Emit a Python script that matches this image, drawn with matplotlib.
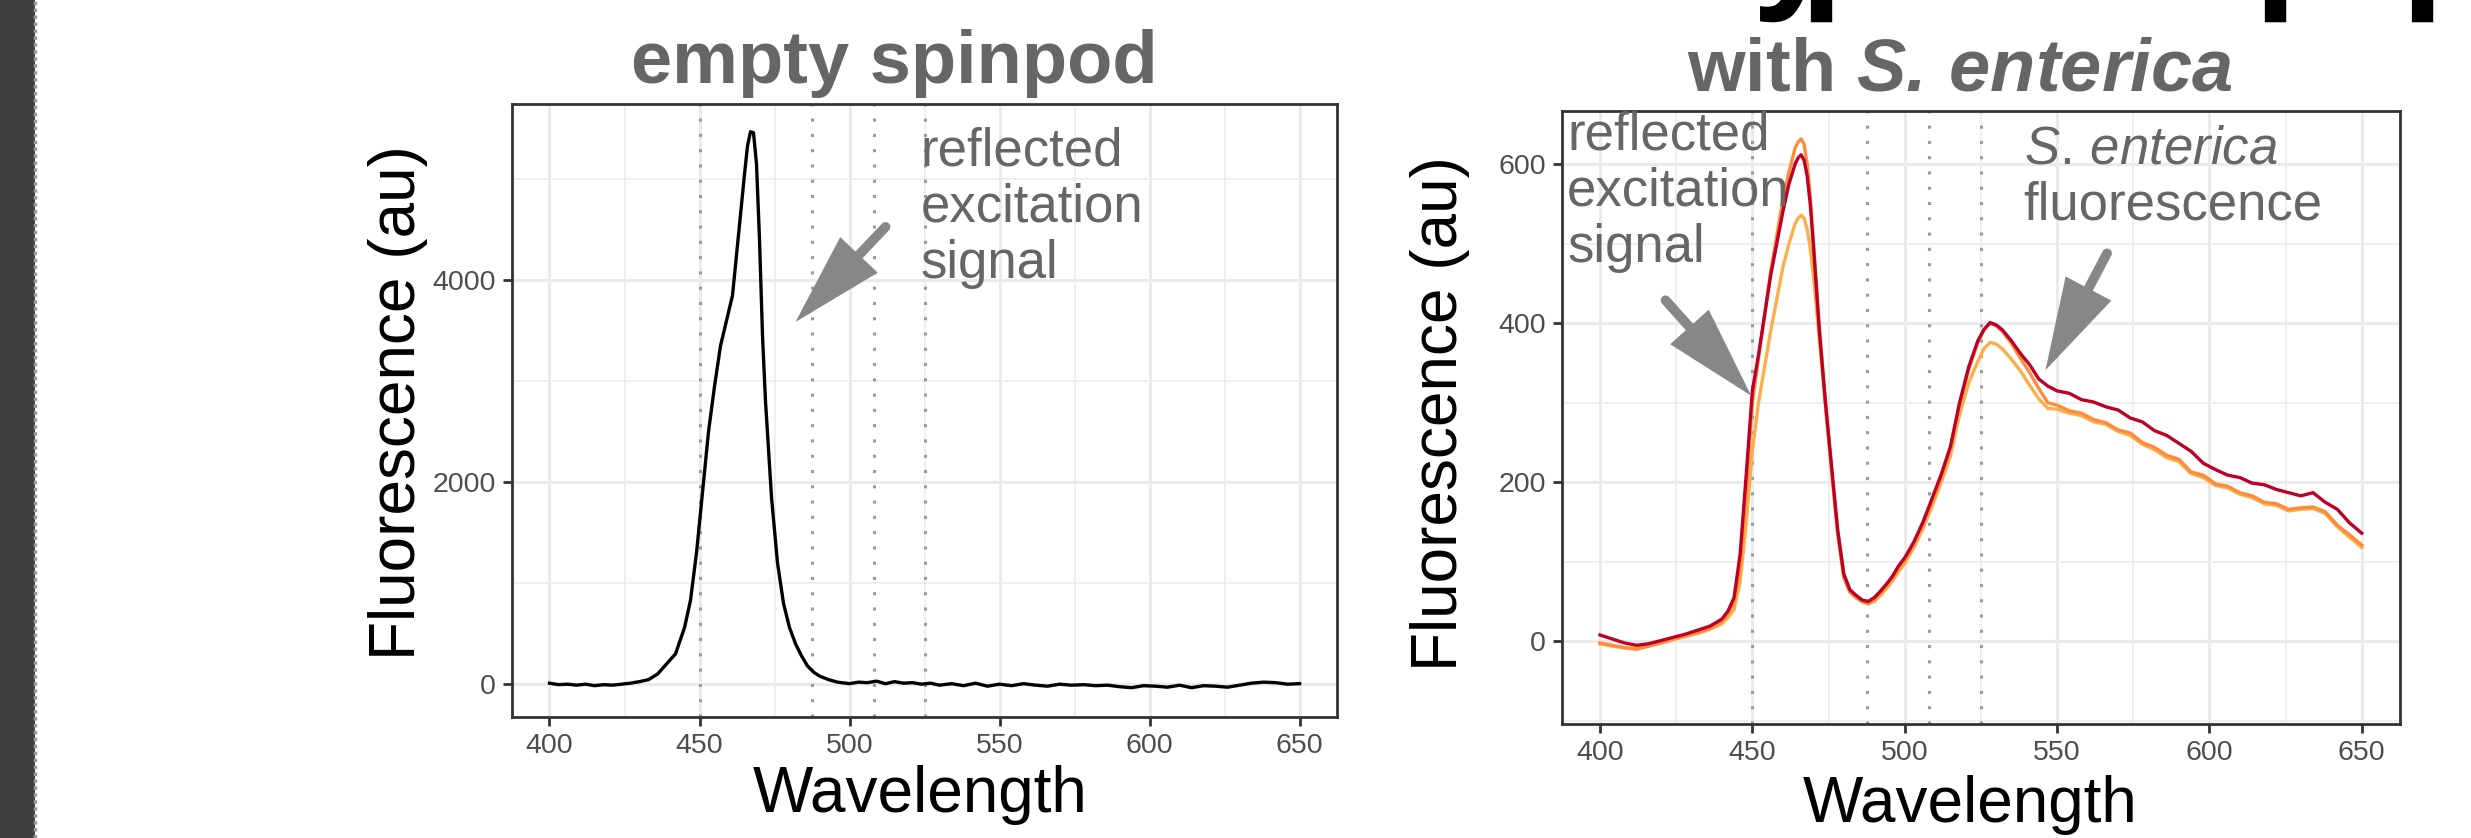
import matplotlib
matplotlib.use("Agg")
import matplotlib.pyplot as plt
from matplotlib import patheffects
from matplotlib.lines import Line2D
from matplotlib.patches import Rectangle
from matplotlib.ticker import MultipleLocator

plt.rcParams["font.family"] = ["Liberation Sans", "DejaVu Sans"]
plt.rcParams["mathtext.fontset"] = "custom"
plt.rcParams["mathtext.rm"] = "Liberation Sans"
plt.rcParams["mathtext.it"] = "Liberation Sans:italic"
plt.rcParams["mathtext.bf"] = "Liberation Sans:bold"
plt.rcParams["mathtext.bfit"] = "Liberation Sans:bold:italic"

# filter band edges (nm)
FILTER_EDGES = [450, 487.5, 508, 525]

# empty spinpod: reflected excitation light only
EMPTY_WL = [400, 403, 406, 409, 412, 415, 418, 421, 424, 427, 430, 433, 436, 439,
            442, 445, 447, 449, 451, 453, 455, 457, 459, 461, 463, 465, 466, 467,
            468, 469, 470, 471, 472, 474, 476, 478, 480, 482, 484, 486, 488, 490,
            493, 496, 500, 503, 506, 509, 512, 515, 518, 521, 524, 527, 530, 534,
            538, 542, 546, 550, 554, 558, 562, 566, 570, 574, 578, 582, 586, 590,
            594, 598, 602, 606, 610, 614, 618, 622, 626, 630, 634, 638, 642, 646, 650]
EMPTY_FL = [10, -5, 0, -10, 0, -15, -5, -10, 0, 10, 25, 45, 100, 200,
            300, 560, 830, 1300, 1900, 2500, 2950, 3350, 3600, 3850, 4450, 5050, 5330, 5470,
            5460, 5150, 4400, 3450, 2800, 1850, 1200, 800, 560, 400, 280, 180, 120, 80,
            45, 20, 5, 20, 15, 30, 5, 25, 10, 15, 0, 10, -10, 5,
            -15, 10, -20, 0, -15, 5, -10, -20, 0, -10, -5, -15, -10, -25,
            -35, -15, -20, -30, -10, -35, -15, -20, -30, -10, 10, 20, 15, 0, 5]

# with S. enterica: three replicate spectra
SAMPLE_WL = [400, 404, 408, 412, 416, 420, 424, 428, 432, 436, 440, 442, 444, 446,
             448, 450, 452, 454, 456, 458, 460, 462, 464, 465, 466, 467, 468, 469,
             470, 472, 474, 476, 478, 480, 482, 484, 486, 488, 490, 492, 494, 496,
             498, 500, 503, 506, 509, 512, 515, 518, 521, 524, 526, 528, 530, 532,
             535, 538, 541, 544, 547, 550, 554, 558, 562, 566, 570, 574, 578, 582,
             586, 590, 594, 598, 602, 606, 610, 614, 618, 622, 626, 630, 634, 638,
             642, 646, 650]
SAMPLE_LIGHT = [-3, -6, -8, -9, -6, -2, 2, 6, 10, 15, 22, 30, 40, 75,
                150, 240, 300, 345, 390, 430, 470, 500, 525, 532, 536, 532, 518, 495,
                460, 380, 295, 215, 140, 85, 62, 55, 50, 48, 50, 58, 66, 76,
                88, 98, 118, 142, 170, 200, 233, 285, 325, 352, 368, 376, 374, 368,
                355, 340, 322, 305, 293, 292, 287, 284, 276, 273, 264, 259, 248, 241,
                231, 226, 211, 206, 196, 193, 185, 181, 173, 171, 164, 166, 167, 161,
                144, 131, 118]
SAMPLE_MID = [-2, -5, -8, -10, -6, -2, 3, 7, 11, 16, 25, 35, 50, 95,
              190, 300, 355, 410, 465, 510, 555, 590, 620, 628, 632, 625, 600, 560,
              505, 395, 300, 215, 135, 80, 62, 55, 50, 47, 52, 60, 70, 80,
              92, 102, 122, 147, 176, 207, 242, 298, 342, 376, 392, 400, 397, 390,
              375, 356, 338, 318, 300, 297, 290, 287, 279, 275, 266, 262, 250, 244,
              234, 229, 213, 209, 198, 195, 187, 183, 175, 173, 166, 168, 169, 163,
              146, 134, 121]
SAMPLE_DARK = [8, 3, -2, -5, -3, 1, 5, 9, 14, 19, 28, 38, 55, 110,
               210, 315, 360, 410, 460, 500, 540, 575, 600, 608, 612, 605, 585, 550,
               500, 390, 300, 220, 140, 85, 65, 58, 52, 50, 55, 63, 72, 82,
               95, 105, 125, 150, 180, 210, 245, 300, 345, 378, 392, 401, 398, 392,
               378, 362, 348, 330, 321, 315, 312, 304, 301, 295, 291, 281, 276, 265,
               259, 249, 239, 224, 216, 209, 206, 199, 197, 191, 187, 183, 187, 175,
               166, 149, 136]

LINE_COLORS = ["#FDAE4B", "#FD8D3C", "#BD0026"]
TEXT_GREY = "#666666"
ARROW_GREY = "#878787"


def style_axes(ax, ymajor, yminor):
    ax.set_xlim(387.5, 662.5)
    ax.xaxis.set_major_locator(MultipleLocator(50))
    ax.xaxis.set_minor_locator(MultipleLocator(25))
    ax.yaxis.set_major_locator(MultipleLocator(ymajor))
    ax.yaxis.set_minor_locator(MultipleLocator(yminor))
    ax.grid(which="major", color="#EBEBEB", lw=2.2)
    ax.grid(which="minor", color="#EBEBEB", lw=1.1)
    ax.set_axisbelow(True)
    ax.tick_params(which="major", length=6.5, width=2, color="#333333",
                   labelsize=20.5, labelcolor="#4D4D4D", pad=5)
    ax.tick_params(which="minor", length=0)
    for spine in ax.spines.values():
        spine.set_color("#333333")
        spine.set_linewidth(2)
    for x in FILTER_EDGES:
        ax.axvline(x, color="#9A9A9A", lw=2.2, ls=(0, (1, 4)))


def arrow(ax, tail, tip):
    ax.annotate("", xy=tip, xytext=tail,
                arrowprops=dict(arrowstyle="-|>,head_length=5.0,head_width=1.4",
                                lw=7, color=ARROW_GREY, shrinkA=0, shrinkB=0,
                                mutation_scale=10, joinstyle="miter"))


fig = plt.figure(figsize=(24.71, 8.38), dpi=100)

# strip of the neighbouring micrograph on the far left
fig.add_artist(Rectangle((0, 0), 35 / 2471, 1, transform=fig.transFigure,
                         color="#404040", lw=0))
fig.add_artist(Line2D([35 / 2471, 35 / 2471], [0, 1], transform=fig.transFigure,
                      color="#9A9A9A", lw=2.5, ls=(0, (1, 1))))

# descenders of the figure heading running off the top edge
# (drawn as paths so the part above the canvas is clipped, not shifted)
for x, s in [(1752, "y"), (1800, "p"), (2254, "p"), (2401, "p")]:
    fig.text(x / 2471, 1 - 22 / 838, s, fontsize=112, fontweight="bold",
             color="black", ha="left", va="bottom",
             path_effects=[patheffects.Normal()])

# left panel
ax1 = fig.add_axes([0.2072, 0.1444, 0.3339, 0.7315])
style_axes(ax1, 2000, 1000)
ax1.set_ylim(-325, 5745)
ax1.plot(EMPTY_WL, EMPTY_FL, color="black", lw=2.4)
ax1.text(523.7, 4020, "reflected\nexcitation\nsignal", color=TEXT_GREY,
         fontsize=38, ha="left", va="baseline", linespacing=1.16)
arrow(ax1, (512, 4528), (482, 3587))

# right panel
ax2 = fig.add_axes([0.6321, 0.1360, 0.3391, 0.7315])
style_axes(ax2, 200, 100)
ax2.set_ylim(-104, 667)
for series, color in zip([SAMPLE_LIGHT, SAMPLE_MID, SAMPLE_DARK], LINE_COLORS):
    ax2.plot(SAMPLE_WL, series, color=color, lw=2.4)
ax2.text(389.2, 477, "reflected\nexcitation\nsignal", color=TEXT_GREY,
         fontsize=38, ha="left", va="baseline", linespacing=1.16)
ax2.text(539, 530, "$\\mathit{S.\\,enterica}$\nfluorescence", color=TEXT_GREY,
         fontsize=38, ha="left", va="baseline", linespacing=1.16)
arrow(ax2, (421.5, 429), (449.6, 309))
arrow(ax2, (566.4, 488), (546.2, 341))

# panel titles and axis labels
fig.text(0.3618, 0.9010, "empty spinpod", color=TEXT_GREY, fontsize=53.4,
         fontweight="bold", ha="center", va="baseline")
fig.text(0.7932, 0.8926, "with $\\mathbfit{S.\\,enterica}$", color=TEXT_GREY,
         fontsize=53.4, fontweight="bold", ha="center", va="baseline")
for x, y in [(0.1611, 0.520), (0.5828, 0.506)]:
    fig.text(x, y, "Fluorescence (au)", fontsize=46, rotation=90,
             ha="center", va="center")
for x, y in [(0.3723, 0.0310), (0.7973, 0.0191)]:
    fig.text(x, y, "Wavelength", fontsize=46, ha="center", va="baseline")

fig.savefig("out.png", dpi=100)
